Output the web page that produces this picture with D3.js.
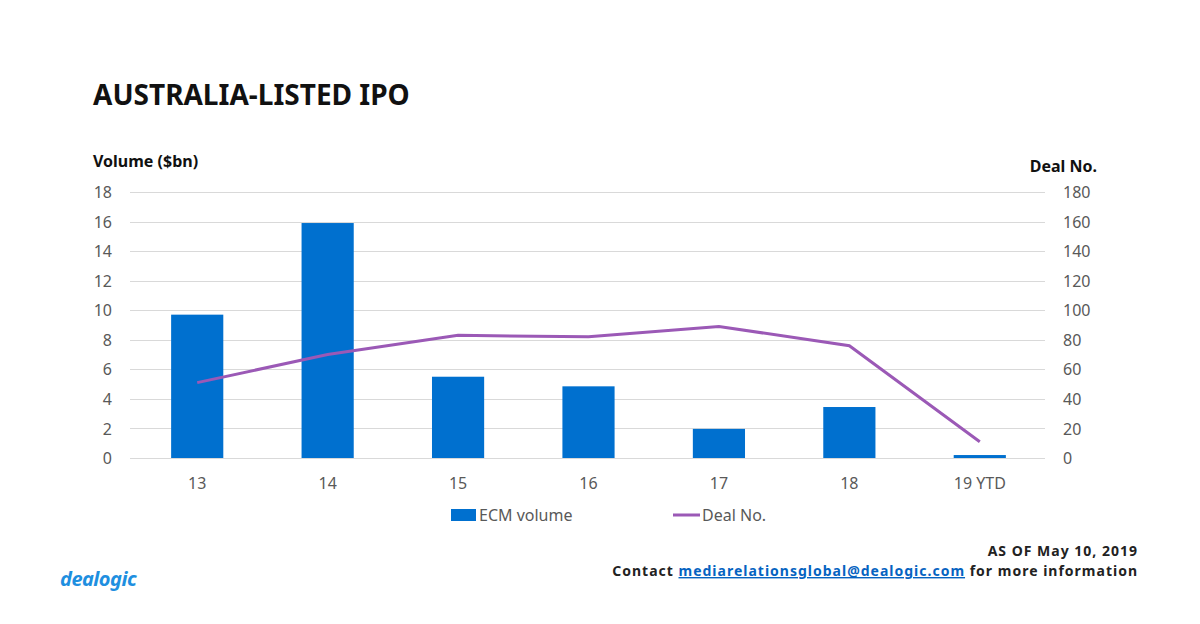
<!DOCTYPE html>
<html>
<head>
<meta charset="utf-8">
<script src="https://cdn.jsdelivr.net/npm/d3@7"></script>
<style>
  body { margin: 0; background: #fff; }
  svg { font-family: "Noto Sans", "Open Sans", sans-serif; }
  .axis text { fill: #595959; font-size: 16px; font-family: "Noto Sans", sans-serif; }
  .axis path, .axis line { display: none; }
  .grid line { stroke: #d9d9d9; stroke-width: 1; }
</style>
</head>
<body>
<div class="chart"></div>
<script>
/* chart data */
const years = ["13", "14", "15", "16", "17", "18", "19 YTD"];
const ecmVolume = [9.7, 15.9, 5.5, 4.85, 1.97, 3.45, 0.2];
const dealNo = [51, 70, 83, 82, 89, 76, 11];
const leftTicks = [0, 2, 4, 6, 8, 10, 12, 14, 16, 18];
const rightTicks = [0, 20, 40, 60, 80, 100, 120, 140, 160, 180];

/* plot area */
const width = 1200, height = 624;
const plot = {left: 132, right: 1045, top: 192, bottom: 458};

const svg = d3.select(".chart")
  .append("svg")
  .attr("width", width)
  .attr("height", height);

/* scales */
const xScale = d3.scaleBand()
  .domain(years)
  .range([plot.left, plot.right])
  .paddingInner(0.6)
  .paddingOuter(0.3);

const yLeft = d3.scaleLinear().domain([0, 18]).range([plot.bottom, plot.top]);
const yRight = d3.scaleLinear().domain([0, 180]).range([plot.bottom, plot.top]);

/* gridlines */
svg.append("g")
  .attr("class", "grid")
  .selectAll("line")
  .data(leftTicks)
  .join("line")
  .attr("x1", plot.left - 2)
  .attr("x2", plot.right)
  .attr("y1", d => Math.round(yLeft(d)) + 0.5)
  .attr("y2", d => Math.round(yLeft(d)) + 0.5);

/* bars */
svg.append("g")
  .selectAll("rect")
  .data(ecmVolume)
  .join("rect")
  .attr("x", (d, i) => xScale(years[i]))
  .attr("y", d => yLeft(d))
  .attr("width", xScale.bandwidth())
  .attr("height", d => plot.bottom - yLeft(d))
  .attr("fill", "#0070CF");

/* line */
const line = d3.line()
  .x((d, i) => xScale(years[i]) + xScale.bandwidth() / 2)
  .y(d => yRight(d));

svg.append("path")
  .datum(dealNo)
  .attr("d", line)
  .attr("fill", "none")
  .attr("stroke", "#9B59B6")
  .attr("stroke-width", 3);

/* axes */
svg.append("g")
  .attr("class", "axis")
  .attr("transform", `translate(${plot.left - 20}, 0)`)
  .call(d3.axisLeft(yLeft).tickValues(leftTicks).tickSize(0).tickPadding(0))
  .selectAll("text").attr("dy", "0.35em");

svg.append("g")
  .attr("class", "axis")
  .attr("transform", `translate(${plot.right + 18}, 0)`)
  .call(d3.axisRight(yRight).tickValues(rightTicks).tickSize(0).tickPadding(0))
  .selectAll("text").attr("dy", "0.35em");

svg.append("g")
  .attr("class", "axis")
  .attr("transform", `translate(0, ${plot.bottom + 20})`)
  .call(d3.axisBottom(xScale).tickSize(0).tickPadding(0))
  .selectAll("text").attr("dy", "0.7em");

/* titles */
svg.append("text")
  .attr("x", 93).attr("y", 105)
  .attr("font-size", 28).attr("font-weight", "bold").attr("fill", "#111")
  .text("AUSTRALIA-LISTED IPO");

svg.append("text")
  .attr("x", 93).attr("y", 167)
  .attr("font-size", 16).attr("font-weight", "bold").attr("fill", "#111")
  .text("Volume ($bn)");

svg.append("text")
  .attr("x", 1097).attr("y", 172)
  .attr("text-anchor", "end")
  .attr("font-size", 16).attr("font-weight", "bold").attr("fill", "#111")
  .text("Deal No.");

/* legend */
const legend = svg.append("g").attr("font-size", 16).attr("fill", "#595959");
legend.append("rect")
  .attr("x", 451).attr("y", 509).attr("width", 25).attr("height", 12)
  .attr("fill", "#0070CF");
legend.append("text").attr("x", 479).attr("y", 521).text("ECM volume");
legend.append("line")
  .attr("x1", 673).attr("x2", 700).attr("y1", 515).attr("y2", 515)
  .attr("stroke", "#9B59B6").attr("stroke-width", 3);
legend.append("text").attr("x", 702).attr("y", 521).text("Deal No.");

/* footer */
const footer = svg.append("g")
  .attr("font-size", 14).attr("font-weight", "bold").attr("fill", "#222")
  .attr("letter-spacing", "1px")
  .attr("text-anchor", "end");
footer.append("text").attr("x", 1138).attr("y", 556).text("AS OF May 10, 2019");
const contact = footer.append("text").attr("x", 1138).attr("y", 576);
contact.append("tspan").text("Contact ");
contact.append("tspan")
  .attr("fill", "#0563C1").attr("text-decoration", "underline")
  .text("mediarelationsglobal@dealogic.com");
contact.append("tspan").text("  for more information");

svg.append("text")
  .attr("x", 60).attr("y", 586)
  .attr("font-size", 20).attr("font-weight", "bold").attr("font-style", "italic")
  .attr("fill", "#1E8FE0").attr("letter-spacing", "-0.5px")
  .text("dealogic");
</script>
</body>
</html>
